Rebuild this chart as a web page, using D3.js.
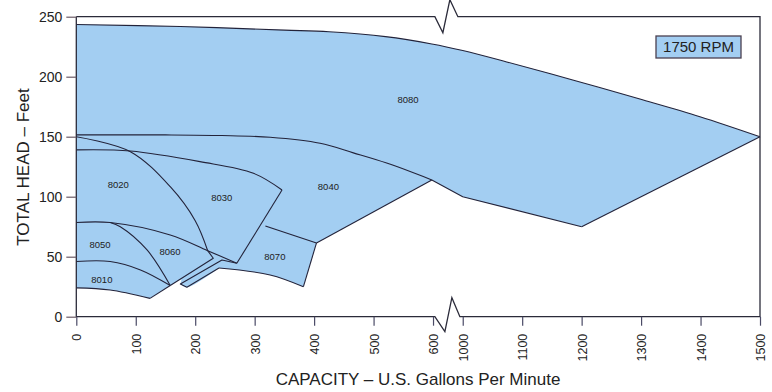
<!DOCTYPE html>
<html><head><meta charset="utf-8">
<script src="https://cdn.jsdelivr.net/npm/d3@7"></script>
<style>
html,body{margin:0;padding:0;background:#fff;}
svg{display:block;font-family:"Liberation Sans",Arial,Helvetica,sans-serif;}
</style></head><body>
<svg id="chart" width="772" height="392"></svg>
<script>
// Pump coverage at 1750 RPM: capacity (US gpm) vs total head (ft)
const xTicks = [0, 100, 200, 300, 400, 500, 600, 1000, 1100, 1200, 1300, 1400, 1500];
const yTicks = [0, 50, 100, 150, 200, 250];
const speedLabel = "1750 RPM";

// Model labels, placed at [gpm, ft]
const models = ["8010", "8020", "8030", "8040", "8050", "8060", "8070", "8080"];
const modelLabelPos = [[43, 30.6], [70.6, 109.7], [244.6, 99.5], [424, 108.3],
                       [40, 59.8], [157.6, 54.2], [334, 50], [558, 180.6]];

// Range boundaries, each as [gpm, ft] points
const top8080   = [[0, 243.5], [175, 241.8], [350, 238.8], [425, 237.4], [520, 233.4], [598, 227.3],
                   [1000, 221.8], [1074, 212.3], [1185, 197.3], [1298, 181.4], [1399, 166.7], [1500, 150]];
const right8080 = [[1500, 150], [1200, 75]];
const low8080   = [[1200, 75], [1000, 100], [598, 114]];
const top8040   = [[0, 151.5], [150, 151.5], [245, 151], [326, 149.5], [410, 144.5], [466, 136.5], [522, 128], [598, 114]];
const low8040   = [[598, 114], [404, 61.5]];
const top8070   = [[404, 61.5], [318, 75.5]];
const top8030   = [[0, 139], [91, 138.1], [208, 129.2], [298, 119.5], [346, 105.6]];
const right8030 = [[346, 105.6], [270, 44.5]];
const top8020   = [[0, 150], [91, 137.5], [158, 108.3], [200, 80], [221, 55]];
const top8060   = [[0, 78.5], [57, 78.5], [158, 68.1], [221, 55], [270, 44.5]];
const right8050 = [[57, 78.5], [74, 75], [119, 55.6], [158, 26]];
const top8010   = [[0, 46], [57, 46], [108, 39], [158, 26]];
const low8010   = [[0, 24], [57, 22.2], [124, 15.3]];
const tip8010   = [[124, 15.3], [158, 26]];
const low8060   = [[158, 26], [230.4, 48.7], [221, 55]];
const right8070 = [[404, 61.5], [382, 25]];
const low8070   = [[382, 25], [326, 34.8], [240, 40.6]];
const left8070  = [[240, 40.6], [186, 24.5], [175, 27.3], [245, 47.3], [270, 44.5]];

const W = 772, H = 392;
const plot = {left: 76.3, right: 760, top: 16.7, bottom: 316.7, gap: 29.7};
const k = (plot.right - plot.left - plot.gap) / 1100;

// broken axis: 0–600 and 1000–1500 on the same gpm-per-pixel ratio
const x = d3.scaleLinear()
  .domain([0, 600, 1000, 1500])
  .range([plot.left, plot.left + 600 * k, plot.left + 600 * k + plot.gap, plot.right]);
const y = d3.scaleLinear().domain([0, 250]).range([plot.bottom, plot.top]);

const svg = d3.select("#chart");
const fillColor = "#a3cef2";
const lineColor = "#23233a";

const curved = d3.line().x(d => x(d[0])).y(d => y(d[1])).curve(d3.curveCatmullRom.alpha(0.5));
const straight = d3.line().x(d => x(d[0])).y(d => y(d[1]));
const straightSets = new Set([right8080, low8080, low8040, top8070, right8030, tip8010, low8060, right8070, left8070]);
const pathOf = seg => (straightSets.has(seg) ? straight : curved)(seg);

// joined outline of all ranges
function joinSegments(segs) {
  let s = segs.map(pathOf).join("");
  let first = true;
  s = s.replace(/M/g, () => { if (first) { first = false; return "M"; } return "L"; });
  return s + "Z";
}

const envelope = joinSegments([
  top8080, right8080, low8080, low8040, right8070, low8070,
  left8070.slice(0, 3), [[175, 27.3], [176.5, 31.2], [158, 26], [124, 15.3]],
  low8010.slice().reverse(), [[0, 24], [0, 243.5]]
]);

svg.append("path").attr("d", envelope).attr("fill", fillColor).attr("stroke", "none");

const boundaries = [top8080, right8080, low8080, top8040, low8040, top8070, top8030, right8030,
  top8020, top8060, right8050, top8010, low8010, tip8010, low8060, right8070, low8070, left8070];
svg.append("g").selectAll("path").data(boundaries).join("path")
  .attr("d", pathOf)
  .attr("fill", "none").attr("stroke", lineColor).attr("stroke-width", 1.1)
  .attr("stroke-linejoin", "round");

// model labels
svg.append("g").selectAll("text").data(models).join("text")
  .attr("x", (d, i) => x(modelLabelPos[i][0]))
  .attr("y", (d, i) => y(modelLabelPos[i][1]))
  .attr("text-anchor", "middle").attr("dy", "0.35em")
  .attr("font-size", 9.5).attr("fill", "#222")
  .text(d => d);

// frame with break marks
const gapMid = (x(600) + x(1000)) / 2;
const frame = svg.append("g").attr("fill", "none").attr("stroke", "#2b2b3a").attr("stroke-width", 1.3);
frame.append("path").attr("d", d3.line()([
  [plot.left, plot.top], [gapMid - 13, plot.top], [gapMid - 5, plot.top + 16],
  [gapMid + 2, plot.top - 17], [gapMid + 10, plot.top], [plot.right, plot.top],
  [plot.right, plot.bottom], [gapMid + 12, plot.bottom], [gapMid + 4, plot.bottom - 19],
  [gapMid - 3, plot.bottom + 15], [gapMid - 13, plot.bottom], [plot.left, plot.bottom], [plot.left, plot.top]
]));

// x axis
const xAxis = svg.append("g").attr("transform", `translate(0,${plot.bottom})`)
  .call(d3.axisBottom(x).tickValues(xTicks).tickSize(9).tickPadding(0).tickFormat(d3.format("d")));
xAxis.select(".domain").remove();
xAxis.selectAll(".tick line").attr("stroke", "#4a4a66").attr("stroke-width", 1.2);
xAxis.selectAll(".tick text")
  .attr("transform", "rotate(-90)")
  .attr("x", -17).attr("y", 0).attr("dy", "0.36em")
  .attr("text-anchor", "end")
  .attr("font-size", 12.5).attr("font-family", '"Liberation Sans",Arial,sans-serif').attr("fill", "#222");

// y axis
const yAxis = svg.append("g").attr("transform", `translate(${plot.left},0)`)
  .call(d3.axisLeft(y).tickValues(yTicks).tickSize(10).tickPadding(4));
yAxis.select(".domain").remove();
yAxis.selectAll(".tick line").attr("stroke", "#6a5a66").attr("stroke-width", 1.2);
yAxis.selectAll(".tick text")
  .attr("font-size", 14).attr("font-family", '"Liberation Sans",Arial,sans-serif').attr("fill", "#222");

// axis titles
svg.append("text").attr("x", 418).attr("y", 385).attr("text-anchor", "middle")
  .attr("font-size", 17).attr("fill", "#222").text("CAPACITY – U.S. Gallons Per Minute");
svg.append("text").attr("transform", "translate(29,167) rotate(-90)").attr("text-anchor", "middle")
  .attr("font-size", 17).attr("fill", "#222").text("TOTAL HEAD – Feet");

// speed tag
const tag = svg.append("g");
tag.append("rect").attr("x", 656).attr("y", 36).attr("width", 85).attr("height", 22)
  .attr("fill", fillColor).attr("stroke", "#4a4050").attr("stroke-width", 1.3);
tag.append("text").attr("x", 698.5).attr("y", 47).attr("dy", "0.36em").attr("text-anchor", "middle")
  .attr("font-size", 15).attr("fill", "#222").text(speedLabel);
</script>
</body></html>
